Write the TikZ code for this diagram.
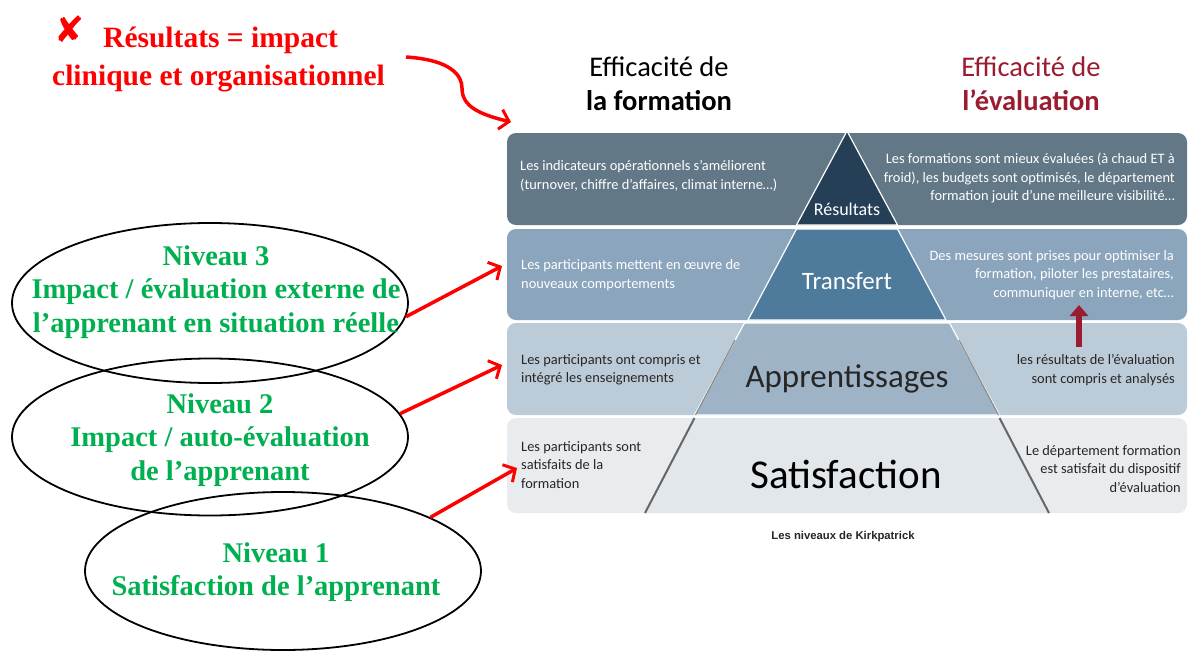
\documentclass[tikz,border=0pt]{standalone}
\usepackage{fontspec}
\setmainfont{Carlito}
\newfontfamily\serifb{Liberation Serif}
\newfontfamily\capfont{Liberation Sans}
\newfontfamily\symfont{DejaVu Sans}
\usetikzlibrary{arrows.meta,shapes.geometric}
\definecolor{bandA}{HTML}{637887}
\definecolor{bandB}{HTML}{8BA6BC}
\definecolor{bandC}{HTML}{BCCBD8}
\definecolor{bandD}{HTML}{E8ECEF}
\definecolor{pyrA}{HTML}{243F56}
\definecolor{pyrB}{HTML}{4E7B9B}
\definecolor{pyrC}{HTML}{9EB4C6}
\definecolor{pyrD}{HTML}{E2E7EB}
\definecolor{evalred}{HTML}{9B1B30}
\definecolor{vert}{HTML}{00B050}
\definecolor{rouge}{HTML}{FF0000}
\definecolor{txtdark}{HTML}{262626}
\tikzset{
  band/.style={rounded corners=9pt, draw=none},
  seg/.style={draw=white, line width=1.2pt},
  segedge/.style={draw=black!60, line width=2pt},
  bandtxt/.style={font=\fontsize{14.4}{18.5}\selectfont, inner sep=0pt},
  lvltxt/.style={font=\serifb\bfseries\fontsize{28.5}{33.5}\selectfont, text=vert, align=center, inner sep=0pt},
  lvlell/.style={draw=black, line width=1.8pt, ellipse, inner sep=0pt},
  redarrow/.style={draw=rouge, line width=3.5pt, -{Straight Barb[length=9pt,width=20pt,line width=3pt]}},
  head/.style={font=\fontsize{28.5}{34}\selectfont, align=center, inner sep=0pt},
  redtxt/.style={text=rouge, font=\serifb\bfseries\fontsize{29.5}{40}\selectfont, align=left, anchor=west, inner sep=0pt}
}
\begin{document}
\begin{tikzpicture}[x=1pt,y=-1pt]
\useasboundingbox (0,0) rectangle (1192,651);
\fill[white] (0,0) rectangle (1192,651);
% bands
\fill[bandA, band] (507,133) rectangle (1187,225);
\fill[bandB, band] (507,229) rectangle (1187,320);
\fill[bandC, band] (507,323) rectangle (1187,415);
\fill[bandD, band] (507,418) rectangle (1187,513);
% pyramid
\coordinate (apex) at (847,131);
\path[fill=pyrD] (694.5,418) -- (999.5,418) -- (1049,513) -- (645,513) -- cycle;
\draw[segedge] (694.5,418) -- (645,513);
\draw[segedge] (999.5,418) -- (1049,513);
\path[fill=pyrC, seg] (744.5,323) -- (949.5,323) -- (999.5,415) -- (694.5,415) -- cycle;
\draw[draw=black!45, line width=1.2pt] (695.5,415) -- (735,340);
\draw[draw=black!45, line width=1.2pt] (998.5,415) -- (959,340);
\path[fill=pyrB, seg] (796.5,229) -- (897.5,229) -- (946,320) -- (748,320) -- cycle;
\path[fill=pyrA, seg] (apex) -- (897.5,225) -- (796.5,225) -- cycle;
% pyramid labels
\node[text=white, font=\fontsize{18}{20}\selectfont] (lres) at (847,209) {Résultats};
\node[text=white, font=\fontsize{25}{28}\selectfont] (ltra) at (847,281) {Transfert};
\node[text=txtdark, font=\fontsize{33}{36}\selectfont] (lapp) at (847,379) {Apprentissages};
\node[text=black, font=\fontsize{41}{44}\selectfont] (lsat) at (846,474) {Satisfaction};
% band texts
\node[bandtxt, text=white, align=left, anchor=west] (t1l) at (520,176) {Les indicateurs opérationnels s’améliorent\\(turnover, chiffre d’affaires, climat interne…)};
\node[bandtxt, text=white, align=right, anchor=east] (t1r) at (1175,178) {Les formations sont mieux évaluées (à chaud ET à\\froid), les budgets sont optimisés, le département\\formation jouit d’une meilleure visibilité…};
\node[bandtxt, text=white, align=left, anchor=west] (t2l) at (521,275) {Les participants mettent en œuvre de\\nouveaux comportements};
\node[bandtxt, text=white, align=right, anchor=east] (t2r) at (1174,275) {Des mesures sont prises pour optimiser la\\formation, piloter les prestataires,\\communiquer en interne, etc…};
\node[bandtxt, text=txtdark, align=left, anchor=west] (t3l) at (521,370) {Les participants ont compris et\\intégré les enseignements};
\node[bandtxt, text=txtdark, align=right, anchor=east] (t3r) at (1175,370) {les résultats de l’évaluation\\sont compris et analysés};
\node[bandtxt, text=txtdark, align=left, anchor=west] (t4l) at (521,465) {Les participants sont\\satisfaits de la\\formation};
\node[bandtxt, text=txtdark, align=right, anchor=east] (t4r) at (1181,469) {Le département formation\\est satisfait du dispositif\\d’évaluation};
% dark red arrow
\coordinate (ua) at (1079,347);
\coordinate (ub) at (1079,305);
\draw[evalred, line width=5.5pt, -{Triangle[length=11pt,width=18pt]}] (ua) -- (ub);
% headings
\node[head] (h1) at (659,84) {Efficacité de\\\textbf{la formation}};
\node[head, text=evalred] (h2) at (1031,84) {Efficacité de\\\textbf{l’évaluation}};
% caption
\node[font=\capfont\bfseries\fontsize{11.3}{13}\selectfont, text=black!85] (cap) at (843,537) {Les niveaux de Kirkpatrick};
% red title
\node[text=rouge, font=\symfont\bfseries\fontsize{36}{38}\selectfont] (xmark) at (70,29) {✘};
\node[redtxt] (rt1) at (103,40) {Résultats = impact};
\node[redtxt] (rt2) at (52,79) {clinique et organisationnel};
\coordinate (cs) at (406,57);
\coordinate (ce) at (511,122);
\draw[redarrow] (cs) .. controls (452,60) and (462,76) .. (462,88) .. controls (462,106) and (478,114) .. (ce);
% ellipses
\node[lvlell, minimum width=396pt, minimum height=160pt] (e3) at (210,303) {};
\node[lvlell, minimum width=396pt, minimum height=157pt] (e2) at (210,437) {};
\node[lvlell, minimum width=396pt, minimum height=158pt] (e1) at (283,571) {};
\node[lvltxt] (n3) at (216,292) {Niveau 3\\Impact / évaluation externe de\\l’apprenant en situation réelle};
\node[lvltxt] (n2) at (220,440) {Niveau 2\\Impact / auto-évaluation\\de l’apprenant};
\node[lvltxt] (n1) at (276,572) {Niveau 1\\Satisfaction de l’apprenant};
% red arrows
\coordinate (a3) at (502,266);
\coordinate (a2) at (502,365);
\coordinate (a1) at (517,468);
\draw[redarrow] (e3.-4) -- (a3);
\draw[redarrow] (e2.7) -- (a2);
\draw[redarrow] (e1.20) -- (a1);
\end{tikzpicture}
\end{document}
